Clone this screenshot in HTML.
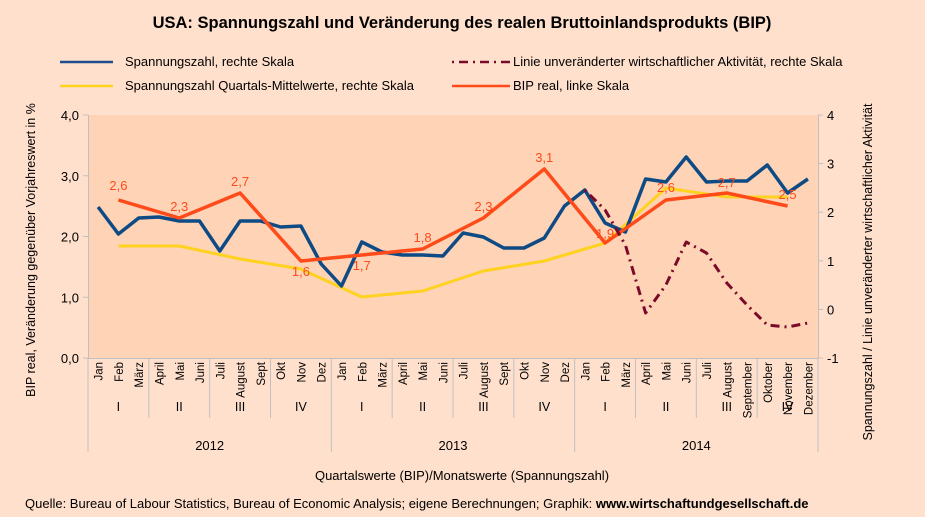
<!DOCTYPE html>
<html><head><meta charset="utf-8"><style>
body{margin:0;background:#FFE0CC;}
svg{display:block;font-family:"Liberation Sans",sans-serif;}
</style></head><body>
<svg id="s" width="925" height="517" xmlns="http://www.w3.org/2000/svg">
<rect width="925" height="517" fill="#FFE0CC"/>
<text x="462" y="28" text-anchor="middle" font-weight="bold" font-size="16.5" fill="#000">USA: Spannungszahl und Veränderung des realen Bruttoinlandsprodukts (BIP)</text>
<g font-size="13" fill="#000">
<line x1="60" y1="62" x2="113" y2="62" stroke="#1F4E8C" stroke-width="2.5"/><text x="125" y="66">Spannungszahl, rechte Skala</text>
<line x1="60" y1="86" x2="113" y2="86" stroke="#FFD21F" stroke-width="2.5"/><text x="125" y="90">Spannungszahl Quartals-Mittelwerte, rechte Skala</text>
<line x1="452" y1="62" x2="510" y2="62" stroke="#7A0A2A" stroke-width="2.5" stroke-dasharray="2,5,9,5"/>
<line x1="452" y1="86" x2="510" y2="86" stroke="#FF4A1A" stroke-width="2.5"/>
<text x="513" y="66">Linie unveränderter wirtschaftlicher Aktivität, rechte Skala</text>
<text x="513" y="90">BIP real, linke Skala</text>
</g>
<rect x="88" y="115" width="730" height="243" fill="#FFD3B6"/>
<g stroke="#C0C0C0" stroke-width="1" fill="none">
<line x1="88.5" y1="115" x2="88.5" y2="358"/>
<line x1="818.5" y1="115" x2="818.5" y2="358"/>
<line x1="88" y1="358.5" x2="818" y2="358.5"/>
</g>
<g id="ax"></g>
<g id="series"></g>
</svg>
<script>
var NS="http://www.w3.org/2000/svg",s=document.getElementById('s'),ax=document.getElementById('ax'),se=document.getElementById('series');
function el(t,a,p,txt){var e=document.createElementNS(NS,t);for(var k in a)e.setAttribute(k,a[k]);if(txt!==undefined)e.textContent=txt;(p||s).appendChild(e);return e;}
var W=730/36;function X(i){return 88+W*(i+0.5);}
["0,0","1,0","2,0","3,0","4,0"].forEach(function(t,k){var y=358-k*60.75;el('line',{x1:83,y1:y,x2:88,y2:y,stroke:'#C0C0C0'},ax);el('text',{x:79,y:y+5,'text-anchor':'end','font-size':13},ax,t);});
for(var k=-1;k<=4;k++){var y=358-(k+1)*48.6;el('line',{x1:818,y1:y,x2:823,y2:y,stroke:'#C0C0C0'},ax);el('text',{x:827,y:y+5,'font-size':13},ax,String(k));}
el('text',{transform:'translate(35,250) rotate(-90)','text-anchor':'middle','font-size':12.5},ax,'BIP real, Veränderung gegenüber Vorjahreswert in %');
el('text',{transform:'translate(872,272) rotate(-90)','text-anchor':'middle','font-size':12.5},ax,'Spannungszahl / Linie unveränderter wirtschaftlicher Aktivität');
var m1=["Jan","Feb","März","April","Mai","Juni","Juli","August","Sept","Okt","Nov","Dez"];
var m3=["Jan","Feb","März","April","Mai","Juni","Juli","August","September","Oktober","November","Dezember"];
for(var i=0;i<36;i++){var m=(i<24?m1:m3)[i%12];el('text',{transform:'translate('+(X(i)+4.5)+',362) rotate(-90)','text-anchor':'end','font-size':11.5},ax,m);}
var q=["I","II","III","IV"];
for(var j=0;j<12;j++){var x0=88+j*3*W;el('line',{x1:x0,y1:358,x2:x0,y2:j%4==0?452:418,stroke:'#C0C0C0'},ax);el('text',{x:x0+1.5*W,y:411,'text-anchor':'middle','font-size':12.5},ax,q[j%4]);}
el('line',{x1:818,y1:358,x2:818,y2:452,stroke:'#C0C0C0'},ax);
["2012","2013","2014"].forEach(function(t,k){el('text',{x:88+(k+0.5)*12*W,y:450,'text-anchor':'middle','font-size':13},ax,t);});
el('text',{x:462,y:480,'text-anchor':'middle','font-size':13},ax,'Quartalswerte (BIP)/Monatswerte (Spannungszahl)');
var src=el('text',{x:25,y:508,'font-size':13},ax,'Quelle: Bureau of Labour Statistics, Bureau of Economic Analysis; eigene Berechnungen; Graphik: ');
el('tspan',{'font-weight':'bold'},src,'www.wirtschaftundgesellschaft.de');
function line(pts,c,w,extra){var d=pts.map(function(p,k){return (k?'L':'M')+X(p[0]).toFixed(1)+','+p[1];}).join(' ');var a={d:d,stroke:c,'stroke-width':w,fill:'none','stroke-linejoin':'round'};for(var k in extra)a[k]=extra[k];el('path',a,se);}
var yel=[[1,246],[4,246],[7,259],[10,269],[13,297],[16,291],[19,271],[22,261],[25,243],[28,188],[31,197],[34,197]];
line(yel,'#FFD21F',3);
var bv=[207,234,218,217,221,221,251,221,221,227,226,264,286,242,252,255,255,256,233,237,248,248,238,206,190,223,232,179,182,157,182,181,181,165,193,179];
var bp=[];for(var i=0;i<36;i++)bp.push([i,bv[i]]);
line(bp,'#0E4A84',3.5);
var red=[[1,200],[4,218],[7,193],[10,261],[13,255],[16,249],[19,218],[22,169],[25,243],[28,200],[31,193],[34,206]];
line(red,'#FF4A1A',3.5);
var dd=[[24,190],[25,210],[26,245],[27,313],[28,285],[29,242],[30,253],[31,283],[32,305],[33,325],[34,327],[35,323]];
line(dd,'#7A0A2A',3,{'stroke-dasharray':'2,5,9,5'});
var lab=[[1,"2,6",190],[4,"2,3",211],[7,"2,7",186],[10,"1,6",276],[13,"1,7",270],[16,"1,8",242],[19,"2,3",211],[22,"3,1",162],[25,"1,9",238],[28,"2,6",192],[31,"2,7",187],[34,"2,5",199]];
lab.forEach(function(l){el('text',{x:X(l[0]),y:l[2],'text-anchor':'middle','font-size':13,fill:'#FF4A1A'},se,l[1]);});
</script>
</body></html>
